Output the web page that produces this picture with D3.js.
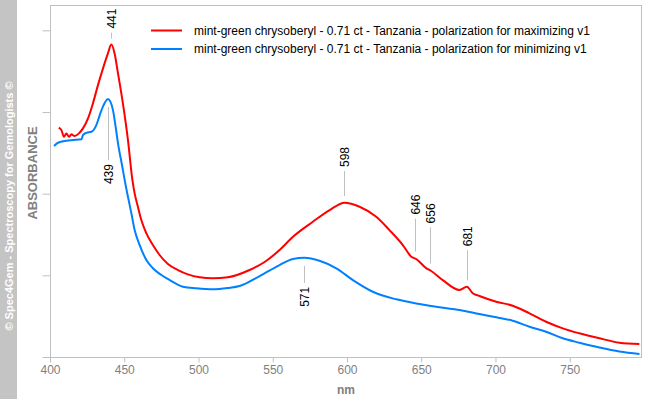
<!DOCTYPE html>
<html lang="en">
<head>
<meta charset="utf-8">
<title>mint-green chrysoberyl spectrum</title>
<script src="https://cdn.jsdelivr.net/npm/d3@7"></script>
<style>
  body { margin: 0; background: #fff; }
  svg { display: block; font-family: "Liberation Sans", Arial, sans-serif; }
</style>
</head>
<body>
<script>

// wavelengths (nm) and absorbance for the maximizing polarization (red)
var maxNm  = [405.9, 407.7, 409.4, 411.0, 412.8, 414.4, 416.6, 419.5, 422.2, 425.6, 428.9, 432.3, 435.7, 439.0, 441.3, 443.5, 445.8, 449.1, 452.5, 455.5, 457.0, 459.2, 461.5, 464.9, 469.3, 473.8, 479.4, 486.2, 492.9, 500.8, 509.7, 519.8, 534.4, 544.5, 554.6, 563.6, 577.0, 588.3, 598.4, 608.5, 619.7, 628.6, 637.6, 643.3, 646.6, 653.3, 656.7, 664.5, 675.8, 680.7, 684.7, 689.2, 700.5, 711.6, 722.9, 734.1, 745.3, 756.5, 770.0, 783.5, 796.9];
var maxAbs = [2.807, 2.778, 2.696, 2.738, 2.696, 2.726, 2.705, 2.738, 2.799, 2.922, 3.105, 3.329, 3.534, 3.717, 3.827, 3.717, 3.472, 3.105, 2.656, 2.166, 2.004, 1.840, 1.677, 1.514, 1.371, 1.249, 1.139, 1.065, 1.012, 0.976, 0.963, 0.976, 1.065, 1.163, 1.310, 1.472, 1.656, 1.799, 1.889, 1.840, 1.717, 1.554, 1.371, 1.228, 1.200, 1.089, 1.053, 0.942, 0.820, 0.860, 0.780, 0.747, 0.677, 0.628, 0.535, 0.432, 0.351, 0.290, 0.229, 0.175, 0.159];

// minimizing polarization (blue)
var minNm  = [402.7, 405.4, 411.0, 415.5, 421.1, 422.2, 424.5, 427.9, 431.2, 433.5, 436.1, 439.0, 442.4, 444.2, 445.8, 448.7, 450.3, 452.5, 454.8, 457.0, 460.4, 464.9, 469.3, 475.0, 480.6, 489.5, 498.5, 509.7, 519.8, 527.7, 541.2, 554.6, 563.6, 571.4, 581.5, 592.8, 604.0, 617.4, 633.2, 648.8, 662.3, 675.8, 689.2, 700.5, 711.6, 722.9, 734.1, 745.3, 756.5, 770.0, 783.5, 797.0];
var minAbs = [2.583, 2.623, 2.647, 2.656, 2.665, 2.717, 2.745, 2.758, 2.840, 2.962, 3.084, 3.158, 3.023, 2.819, 2.616, 2.329, 2.166, 1.962, 1.759, 1.554, 1.371, 1.187, 1.086, 1.004, 0.942, 0.860, 0.841, 0.829, 0.845, 0.869, 0.991, 1.126, 1.200, 1.215, 1.179, 1.086, 0.942, 0.799, 0.706, 0.649, 0.608, 0.575, 0.526, 0.486, 0.444, 0.371, 0.310, 0.229, 0.175, 0.116, 0.067, 0.037];

var seriesNames = [
  "mint-green chrysoberyl - 0.71 ct - Tanzania - polarization for maximizing v1",
  "mint-green chrysoberyl - 0.71 ct - Tanzania - polarization for minimizing v1"
];
var xTicks = [400, 450, 500, 550, 600, 650, 700, 750];
var yTicks = [0, 1, 2, 3, 4];

// marked peaks
var maxPeaks = [441, 598, 646, 656, 681];
var minPeaks = [439, 571];

var w = 645, h = 399;
var padL = 50, padR = 641, padT = 5, padB = 357;
var red = "#ff0000", blue = "#0080ff", grey = "#c0c0c0", textGrey = "#808080";

var svg = d3.select("body").append("svg")
  .attr("width", w)
  .attr("height", h);

var x = d3.scaleLinear().domain([400, 798]).range([padL, padR]);
var y = d3.scaleLinear().domain([0, 4.31]).range([padB, padT]);

// copyright strip
svg.append("rect").attr("x", 0).attr("y", 0).attr("width", 17).attr("height", h).attr("fill", "#c4c4c4");
svg.append("text")
  .attr("transform", "translate(9,206) rotate(-90)")
  .attr("text-anchor", "middle")
  .attr("dy", "0.35em")
  .attr("fill", "#fff")
  .attr("font-size", 11)
  .attr("font-weight", "bold")
  .text("\u00a9 Spec4Gem - Spectroscopy for Gemologists \u00a9");

// frame
svg.append("rect")
  .attr("x", padL + 0.5).attr("y", padT + 0.5)
  .attr("width", padR - padL).attr("height", padB - padT)
  .attr("fill", "none").attr("stroke", grey);

// axes
var xAxis = svg.append("g")
  .attr("transform", "translate(0," + (padB + 0.5) + ")")
  .call(d3.axisBottom(x).tickValues(xTicks).tickSize(5).tickPadding(3).tickFormat(d3.format("d")));
var yAxis = svg.append("g")
  .attr("transform", "translate(" + (padL + 0.5) + ",0)")
  .call(d3.axisLeft(y).tickValues(yTicks).tickSize(8).tickFormat(""));

[xAxis, yAxis].forEach(function (g) {
  g.select(".domain").remove();
  g.selectAll("line").attr("stroke", grey);
  g.selectAll("text").attr("fill", textGrey).attr("font-size", 12)
    .attr("font-family", "Liberation Sans, Arial, sans-serif");
});

svg.append("text")
  .attr("x", 346).attr("y", 394)
  .attr("text-anchor", "middle")
  .attr("fill", textGrey).attr("font-size", 12).attr("font-weight", "bold")
  .text("nm");

svg.append("text")
  .attr("transform", "translate(32,173) rotate(-90)")
  .attr("text-anchor", "middle")
  .attr("dy", "0.35em")
  .attr("fill", textGrey).attr("font-size", 13).attr("font-weight", "bold")
  .text("ABSORBANCE");

// curves
var line = d3.line()
  .x(function (d) { return x(d[0]); })
  .y(function (d) { return y(d[1]); })
  .curve(d3.curveMonotoneX);

var maxData = d3.zip(maxNm, maxAbs);
var minData = d3.zip(minNm, minAbs);

svg.append("path").datum(minData).attr("d", line)
  .attr("fill", "none").attr("stroke", blue).attr("stroke-width", 2);
svg.append("path").datum(maxData).attr("d", line)
  .attr("fill", "none").attr("stroke", red).attr("stroke-width", 2);

// peak labels
function valueAt(nmArr, absArr, nm) {
  var i = d3.bisectLeft(nmArr, nm);
  if (i <= 0) return absArr[0];
  if (i >= nmArr.length) return absArr[absArr.length - 1];
  var t = (nm - nmArr[i - 1]) / (nmArr[i] - nmArr[i - 1]);
  return absArr[i - 1] + t * (absArr[i] - absArr[i - 1]);
}

var leadUp = [6, 25, 33, 36, 30];
var leadDown = [53, 17];

maxPeaks.forEach(function (p, i) {
  var px = Math.round(x(p)) + 0.5;
  var py = y(valueAt(maxNm, maxAbs, p)) - 7;
  svg.append("line")
    .attr("x1", px).attr("x2", px)
    .attr("y1", py).attr("y2", py - leadUp[i])
    .attr("stroke", grey);
  svg.append("text")
    .attr("transform", "translate(" + (px + 0.5) + "," + (py - leadUp[i] - 4) + ") rotate(-90)")
    .attr("dy", "0.35em")
    .attr("font-size", 12)
    .attr("fill", "#000")
    .text(p);
});

minPeaks.forEach(function (p, i) {
  var px = Math.round(x(p)) + 0.5;
  var py = y(valueAt(minNm, minAbs, p)) + 8;
  svg.append("line")
    .attr("x1", px).attr("x2", px)
    .attr("y1", py).attr("y2", py + leadDown[i])
    .attr("stroke", grey);
  svg.append("text")
    .attr("transform", "translate(" + (px + 0.5) + "," + (py + leadDown[i] + 4) + ") rotate(-90)")
    .attr("text-anchor", "end")
    .attr("dy", "0.35em")
    .attr("font-size", 12)
    .attr("fill", "#000")
    .text(p);
});

// legend
var legend = svg.append("g");
[red, blue].forEach(function (c, i) {
  var ly = 30.5 + i * 18.5;
  legend.append("line")
    .attr("x1", 151).attr("x2", 182)
    .attr("y1", ly).attr("y2", ly)
    .attr("stroke", c).attr("stroke-width", 2);
  legend.append("text")
    .attr("x", 194).attr("y", ly)
    .attr("dy", "0.35em")
    .attr("font-size", 12)
    .attr("fill", "#000")
    .text(seriesNames[i]);
});

</script>
</body>
</html>
